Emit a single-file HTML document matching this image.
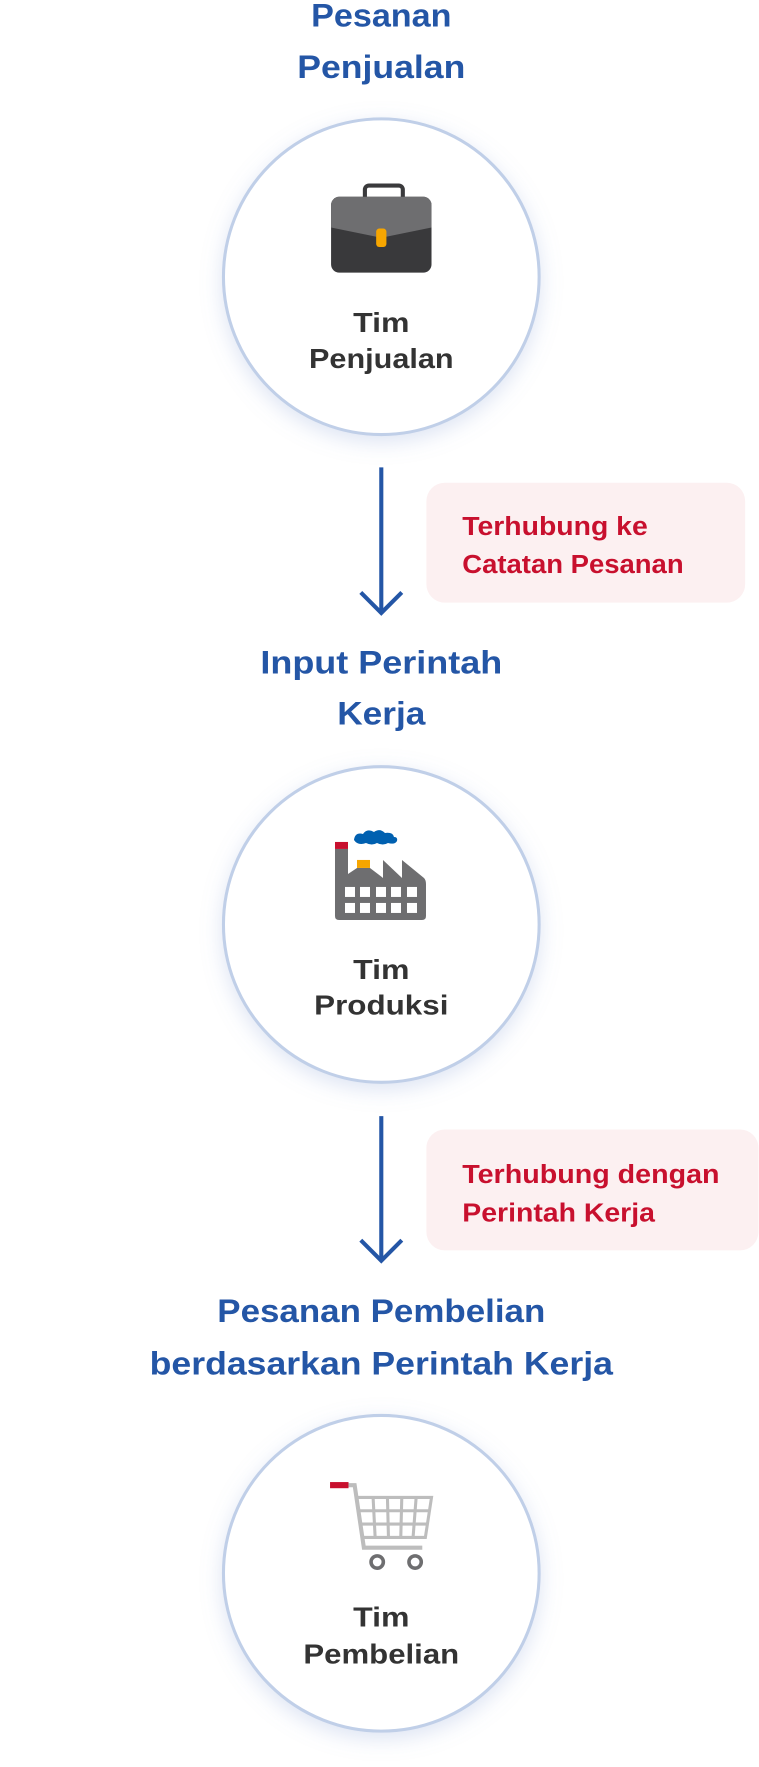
<!DOCTYPE html>
<html><head><meta charset="utf-8"><style>
html,body{margin:0;padding:0;background:#fff;}
svg{display:block;}
text{font-family:"Liberation Sans",sans-serif;font-weight:bold;}
.t{fill:#2456a6;font-size:32px;}
.d{fill:#333;font-size:27px;}
.r{fill:#c8102e;font-size:25px;}
</style></head><body>
<svg width="759" height="1767" viewBox="0 0 740.5 1724" xmlns="http://www.w3.org/2000/svg">
<defs>
<filter id="sh" x="-30%" y="-30%" width="160%" height="160%"><feDropShadow dx="0" dy="6" stdDeviation="10" flood-color="#8ea6d6" flood-opacity="0.3"/></filter>
</defs>
<text class="t" x="372" y="26" text-anchor="middle" textLength="137" lengthAdjust="spacingAndGlyphs">Pesanan</text>
<text class="t" x="372" y="76" text-anchor="middle" textLength="164" lengthAdjust="spacingAndGlyphs">Penjualan</text>
<circle cx="372" cy="270" r="154" fill="#fff" stroke="#c0cfe8" stroke-width="3" filter="url(#sh)"/>
<rect x="356" y="181" width="37" height="18" rx="4" fill="none" stroke="#3a3a3c" stroke-width="4"/>
<rect x="323" y="192" width="98" height="74" rx="8" fill="#39393b"/>
<path d="M331 192 H413 a8 8 0 0 1 8 8 V222 L372 232 L323 222 V200 a8 8 0 0 1 8 -8Z" fill="#6e6e70"/>
<rect x="367" y="223" width="10" height="18" rx="3" fill="#f7a600"/>
<text class="d" x="372" y="324" text-anchor="middle" textLength="55" lengthAdjust="spacingAndGlyphs">Tim</text>
<text class="d" x="372" y="359" text-anchor="middle" textLength="141" lengthAdjust="spacingAndGlyphs">Penjualan</text>
<line x1="372" y1="456" x2="372" y2="598" stroke="#2456a6" stroke-width="4"/>
<polyline points="352,578 372,598 392,578" fill="none" stroke="#2456a6" stroke-width="4"/>
<rect x="416" y="471" width="311" height="117" rx="18" fill="#fcf0f1"/>
<text class="r" x="451" y="522" textLength="181" lengthAdjust="spacingAndGlyphs">Terhubung ke</text>
<text class="r" x="451" y="559" textLength="216" lengthAdjust="spacingAndGlyphs">Catatan Pesanan</text>
<text class="t" x="372" y="657" text-anchor="middle" textLength="236" lengthAdjust="spacingAndGlyphs">Input Perintah</text>
<text class="t" x="372" y="707" text-anchor="middle" textLength="86" lengthAdjust="spacingAndGlyphs">Kerja</text>
<circle cx="372" cy="902" r="154" fill="#fff" stroke="#c0cfe8" stroke-width="3" filter="url(#sh)"/>
<g transform="scale(0.97561)">
<path d="M335 849 H348 V874 L357 868 H370 L383 878 V860 L402 878 V860 L424 878 Q426 880 426 884 V916 Q426 920 422 920 H339 Q335 920 335 916 Z" fill="#6e6e70"/>
<rect x="335" y="842" width="13" height="7" fill="#c8102e"/>
<rect x="357" y="860" width="13" height="8" fill="#f7a600"/>
<path d="M354 840 q1-8 9-6 q4-6 11-2 q6-4 11 1 q8-1 9 4 q4 0 3 4 q-2 4-9 2 q-5 3-11 0 q-5 3-11 0 q-8 3-12-3z" fill="#0060b0"/>
<g fill="#fff">
<rect x="345" y="887" width="10" height="10"/><rect x="360" y="887" width="10" height="10"/><rect x="376" y="887" width="10" height="10"/><rect x="391" y="887" width="10" height="10"/><rect x="407" y="887" width="10" height="10"/>
<rect x="345" y="903" width="10" height="10"/><rect x="360" y="903" width="10" height="10"/><rect x="376" y="903" width="10" height="10"/><rect x="391" y="903" width="10" height="10"/><rect x="407" y="903" width="10" height="10"/>
</g>
</g>
<text class="d" x="372" y="955" text-anchor="middle" textLength="55" lengthAdjust="spacingAndGlyphs">Tim</text>
<text class="d" x="372" y="990" text-anchor="middle" textLength="131" lengthAdjust="spacingAndGlyphs">Produksi</text>
<line x1="372" y1="1089" x2="372" y2="1230" stroke="#2456a6" stroke-width="4"/>
<polyline points="352,1210 372,1230 392,1210" fill="none" stroke="#2456a6" stroke-width="4"/>
<rect x="416" y="1102" width="324" height="118" rx="18" fill="#fcf0f1"/>
<text class="r" x="451" y="1154" textLength="251" lengthAdjust="spacingAndGlyphs">Terhubung dengan</text>
<text class="r" x="451" y="1192" textLength="188" lengthAdjust="spacingAndGlyphs">Perintah Kerja</text>
<text class="t" x="372" y="1290" text-anchor="middle" textLength="320" lengthAdjust="spacingAndGlyphs">Pesanan Pembelian</text>
<text class="t" x="372" y="1341" text-anchor="middle" textLength="452" lengthAdjust="spacingAndGlyphs">berdasarkan Perintah Kerja</text>
<circle cx="372" cy="1535" r="154" fill="#fff" stroke="#c0cfe8" stroke-width="3" filter="url(#sh)"/>
<rect x="322" y="1446" width="18" height="6" fill="#c8102e"/>
<path d="M340 1449 H346 L355 1510 H412" fill="none" stroke="#bdbdbd" stroke-width="4"/>
<g stroke="#bdbdbd" stroke-width="3" fill="none">
<path d="M348 1461 H421 L415 1500 H354"/>
<line x1="351" y1="1474" x2="419" y2="1474"/><line x1="352" y1="1487" x2="417" y2="1487"/>
<line x1="364" y1="1461" x2="366" y2="1500"/><line x1="378" y1="1461" x2="379" y2="1500"/><line x1="392" y1="1461" x2="391" y2="1500"/><line x1="406" y1="1461" x2="403" y2="1500"/>
</g>
<circle cx="368" cy="1524" r="6" fill="none" stroke="#6e6e70" stroke-width="3.5"/>
<circle cx="405" cy="1524" r="6" fill="none" stroke="#6e6e70" stroke-width="3.5"/>
<text class="d" x="372" y="1587" text-anchor="middle" textLength="55" lengthAdjust="spacingAndGlyphs">Tim</text>
<text class="d" x="372" y="1623" text-anchor="middle" textLength="152" lengthAdjust="spacingAndGlyphs">Pembelian</text>
</svg>
</body></html>
